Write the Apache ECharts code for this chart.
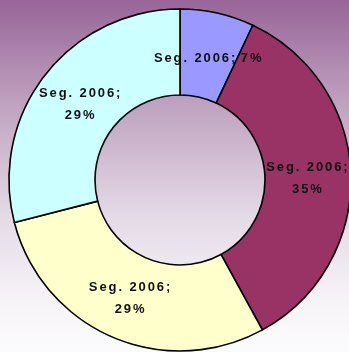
<!DOCTYPE html>
<html>
<head>
<meta charset="utf-8">
<script src="https://cdn.jsdelivr.net/npm/echarts@6/dist/echarts.min.js"></script>
<style>
  html, body { margin: 0; padding: 0; }
  #chart { width: 349px; height: 352px; }
</style>
</head>
<body>
<div id="chart"></div>
<script>
// Segment shares for 2006, clockwise from 12 o'clock
const categories = ['Seg. 2006', 'Seg. 2006', 'Seg. 2006', 'Seg. 2006'];
const values = [7, 35, 29, 29];
const sliceColors = ['#9999FF', '#993366', '#FFFFCC', '#CCFFFF'];
// the smallest slice keeps its label on one line
const oneLine = [true, false, false, false];

// spread letters apart: every character becomes its own rich token with side padding
function spaced(str) {
  return str.split('').map(function (ch) { return '{c|' + ch + '}'; }).join('');
}

const labelFont = {
  color: '#111',
  fontFamily: 'Liberation Sans, Arial, sans-serif',
  fontWeight: 'bold',
  fontSize: 13,
  lineHeight: 22
};

const chart = echarts.init(document.getElementById('chart'), null, { renderer: 'canvas' });

chart.setOption({
  backgroundColor: {
    type: 'linear', x: 0, y: 0, x2: 0, y2: 1,
    colorStops: [
      { offset: 0, color: '#986598' },
      { offset: 0.3, color: '#BFA3C0' },
      { offset: 0.6, color: '#E3D8E5' },
      { offset: 0.85, color: '#F6F3F7' },
      { offset: 1, color: '#FBFBFC' }
    ]
  },
  animation: false,
  series: [
    {
      // the ring itself
      type: 'pie',
      center: [180, 180],
      radius: [85, 171],
      startAngle: 90,
      clockwise: true,
      silent: true,
      itemStyle: { borderColor: '#000', borderWidth: 1.6 },
      label: { show: false },
      labelLine: { show: false },
      data: categories.map(function (name, i) {
        return { name: name, value: values[i], itemStyle: { color: sliceColors[i] } };
      })
    },
    {
      // transparent twin that carries the slice labels slightly inside the ring's middle
      type: 'pie',
      center: [180, 182],
      radius: [85, 163],
      startAngle: 90,
      clockwise: true,
      silent: true,
      avoidLabelOverlap: false,
      itemStyle: { color: 'rgba(0,0,0,0)', borderWidth: 0 },
      label: Object.assign({
        position: 'inside',
        formatter: function (p) {
          const sep = oneLine[p.dataIndex] ? ' ' : '\n';
          return spaced(p.name + ';') + sep + spaced(p.value + '%');
        },
        rich: { c: Object.assign({ padding: [0, 0.95, 0, 0.95] }, labelFont) }
      }, labelFont),
      labelLine: { show: false },
      data: categories.map(function (name, i) {
        return { name: name, value: values[i] };
      })
    }
  ]
});
</script>
</body>
</html>
